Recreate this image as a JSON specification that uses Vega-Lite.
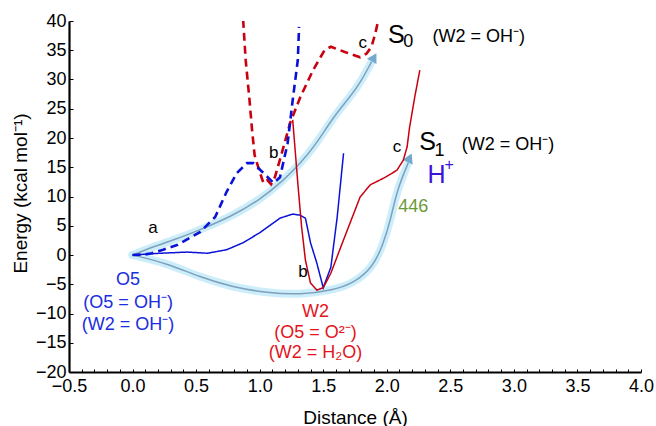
{
  "$schema": "https://vega.github.io/schema/vega-lite/v6.json",
  "width": 572,
  "height": 351,
  "autosize": {"type": "none"},
  "padding": {"left": 69, "top": 21, "right": 15, "bottom": 54},
  "background": "white",
  "config": {
    "view": {"stroke": null},
    "font": "Liberation Sans",
    "text": {"font": "Liberation Sans"}
  },
  "datasets": {
    "glow": [
      {"arrow": "upper", "x": 0, "y": 0},
      {"arrow": "upper", "x": 0.16, "y": 1.4},
      {"arrow": "upper", "x": 0.33, "y": 2.6},
      {"arrow": "upper", "x": 0.53, "y": 4.3},
      {"arrow": "upper", "x": 0.77, "y": 6.5},
      {"arrow": "upper", "x": 1.0, "y": 9.4},
      {"arrow": "upper", "x": 1.19, "y": 12.8},
      {"arrow": "upper", "x": 1.32, "y": 15.7},
      {"arrow": "upper", "x": 1.44, "y": 18.8},
      {"arrow": "upper", "x": 1.58, "y": 23.6},
      {"arrow": "upper", "x": 1.71, "y": 27.0},
      {"arrow": "upper", "x": 1.79, "y": 29.4},
      {"arrow": "upper", "x": 1.88, "y": 33.0},
      {"arrow": "lower", "x": 0, "y": 0},
      {"arrow": "lower", "x": 0.27, "y": -1.4},
      {"arrow": "lower", "x": 0.53, "y": -3.8},
      {"arrow": "lower", "x": 0.79, "y": -5.5},
      {"arrow": "lower", "x": 1.06, "y": -6.5},
      {"arrow": "lower", "x": 1.32, "y": -6.8},
      {"arrow": "lower", "x": 1.58, "y": -6.0},
      {"arrow": "lower", "x": 1.74, "y": -4.8},
      {"arrow": "lower", "x": 1.89, "y": -2.1},
      {"arrow": "lower", "x": 1.97, "y": 1.7},
      {"arrow": "lower", "x": 2.03, "y": 6.0},
      {"arrow": "lower", "x": 2.08, "y": 11.1},
      {"arrow": "lower", "x": 2.17, "y": 15.8}
    ],
    "tips": [
      {"arrow": "upper", "x": 1.90, "y": 33.8},
      {"arrow": "lower", "x": 2.18, "y": 16.6}
    ],
    "curves": [
      {"series": "S0 red", "x": 0.87, "y": 40.2},
      {"series": "S0 red", "x": 0.89, "y": 33.3},
      {"series": "S0 red", "x": 0.92, "y": 26.5},
      {"series": "S0 red", "x": 0.94, "y": 21.4},
      {"series": "S0 red", "x": 0.96, "y": 17.1},
      {"series": "S0 red", "x": 1.0, "y": 14.2},
      {"series": "S0 red", "x": 1.03, "y": 12.3},
      {"series": "S0 red", "x": 1.06, "y": 12.8},
      {"series": "S0 red", "x": 1.09, "y": 12.1},
      {"series": "S0 red", "x": 1.12, "y": 13.3},
      {"series": "S0 red", "x": 1.17, "y": 17.1},
      {"series": "S0 red", "x": 1.24, "y": 22.6},
      {"series": "S0 red", "x": 1.32, "y": 27.0},
      {"series": "S0 red", "x": 1.42, "y": 31.6},
      {"series": "S0 red", "x": 1.51, "y": 35.0},
      {"series": "S0 red", "x": 1.56, "y": 35.6},
      {"series": "S0 red", "x": 1.67, "y": 34.7},
      {"series": "S0 red", "x": 1.79, "y": 33.8},
      {"series": "S0 red", "x": 1.84, "y": 34.4},
      {"series": "S0 red", "x": 1.88, "y": 35.6},
      {"series": "S0 red", "x": 1.91, "y": 37.9},
      {"series": "S0 red", "x": 1.93, "y": 39.8},
      {"series": "S0 blue", "x": 0, "y": 0},
      {"series": "S0 blue", "x": 0.1, "y": 0.1},
      {"series": "S0 blue", "x": 0.15, "y": 0.3},
      {"series": "S0 blue", "x": 0.24, "y": 0.9},
      {"series": "S0 blue", "x": 0.35, "y": 1.7},
      {"series": "S0 blue", "x": 0.53, "y": 3.9},
      {"series": "S0 blue", "x": 0.65, "y": 6.5},
      {"series": "S0 blue", "x": 0.74, "y": 10.8},
      {"series": "S0 blue", "x": 0.82, "y": 14.0},
      {"series": "S0 blue", "x": 0.90, "y": 15.7},
      {"series": "S0 blue", "x": 0.95, "y": 15.7},
      {"series": "S0 blue", "x": 1.03, "y": 14.0},
      {"series": "S0 blue", "x": 1.11, "y": 12.3},
      {"series": "S0 blue", "x": 1.16, "y": 13.3},
      {"series": "S0 blue", "x": 1.22, "y": 19.1},
      {"series": "S0 blue", "x": 1.26, "y": 26.5},
      {"series": "S0 blue", "x": 1.30, "y": 33.3},
      {"series": "S0 blue", "x": 1.31, "y": 39.0},
      {"series": "S1 blue", "x": 0, "y": 0},
      {"series": "S1 blue", "x": 0.22, "y": 0.3},
      {"series": "S1 blue", "x": 0.43, "y": 0.5},
      {"series": "S1 blue", "x": 0.59, "y": 0.3},
      {"series": "S1 blue", "x": 0.74, "y": 0.9},
      {"series": "S1 blue", "x": 0.87, "y": 2.1},
      {"series": "S1 blue", "x": 1.0, "y": 3.8},
      {"series": "S1 blue", "x": 1.16, "y": 6.3},
      {"series": "S1 blue", "x": 1.26, "y": 7.0},
      {"series": "S1 blue", "x": 1.32, "y": 6.8},
      {"series": "S1 blue", "x": 1.36, "y": 6.3},
      {"series": "S1 blue", "x": 1.40, "y": 2.1},
      {"series": "S1 blue", "x": 1.45, "y": -1.4},
      {"series": "S1 blue", "x": 1.50, "y": -5.6},
      {"series": "S1 blue", "x": 1.56, "y": -2.1},
      {"series": "S1 blue", "x": 1.61, "y": 6.5},
      {"series": "S1 blue", "x": 1.66, "y": 17.4},
      {"series": "S1 red", "x": 1.26, "y": 23.1},
      {"series": "S1 red", "x": 1.30, "y": 12.3},
      {"series": "S1 red", "x": 1.33, "y": 4.8},
      {"series": "S1 red", "x": 1.36, "y": -0.9},
      {"series": "S1 red", "x": 1.40, "y": -4.8},
      {"series": "S1 red", "x": 1.45, "y": -6.0},
      {"series": "S1 red", "x": 1.50, "y": -5.6},
      {"series": "S1 red", "x": 1.56, "y": -3.1},
      {"series": "S1 red", "x": 1.66, "y": 2.6},
      {"series": "S1 red", "x": 1.79, "y": 9.9},
      {"series": "S1 red", "x": 1.87, "y": 12.0},
      {"series": "S1 red", "x": 1.99, "y": 13.3},
      {"series": "S1 red", "x": 2.08, "y": 14.5},
      {"series": "S1 red", "x": 2.13, "y": 16.2},
      {"series": "S1 red", "x": 2.16, "y": 18.5},
      {"series": "S1 red", "x": 2.18, "y": 21.9},
      {"series": "S1 red", "x": 2.22, "y": 27.0},
      {"series": "S1 red", "x": 2.26, "y": 31.6}
    ],
    "small": [
      {"x": 0.16, "y": 4.6, "t": "a"},
      {"x": 1.11, "y": 17.4, "t": "b"},
      {"x": 1.34, "y": -2.9, "t": "b"},
      {"x": 1.81, "y": 36.2, "t": "c"},
      {"x": 2.08, "y": 18.5, "t": "c"}
    ],
    "bigS": [
      {"x": 2.01, "y": 36.2, "t": "S"},
      {"x": 2.256, "y": 17.9, "t": "S"}
    ],
    "subS": [
      {"x": 2.13, "y": 35.5, "t": "0"},
      {"x": 2.375, "y": 17.0, "t": "1"}
    ],
    "paren": [
      {"x": 2.36, "y": 36.4, "t": "(W2 = OH⁻)"},
      {"x": 2.59, "y": 17.9, "t": "(W2 = OH⁻)"}
    ],
    "blueText": [
      {"x": -0.035, "y": -5.1, "t": "O5"},
      {"x": -0.035, "y": -9.1, "t": "(O5 = OH⁻)"},
      {"x": -0.035, "y": -12.8, "t": "(W2 = OH⁻)"}
    ],
    "redText": [
      {"x": 1.44, "y": -10.6, "t": "W2"},
      {"x": 1.44, "y": -14.2, "t": "(O5 = O²⁻)"},
      {"x": 1.44, "y": -17.6, "t": "(W2 = H₂O)"}
    ]
  },
  "layer": [
    {
      "data": {"name": "glow"},
      "mark": {"type": "line", "interpolate": "basis", "strokeWidth": 8, "color": "#c6ecf9", "opacity": 0.9, "strokeCap": "round"},
      "encoding": {
        "x": {"field": "x", "type": "quantitative", "scale": {"domain": [-0.5, 4.0], "nice": false, "zero": false},
          "axis": {
            "title": "Distance (Å)",
            "values": [-0.5,-0.4,-0.3,-0.2,-0.1,0,0.1,0.2,0.3,0.4,0.5,0.6,0.7,0.8,0.9,1.0,1.1,1.2,1.3,1.4,1.5,1.6,1.7,1.8,1.9,2.0,2.1,2.2,2.3,2.4,2.5,2.6,2.7,2.8,2.9,3.0,3.1,3.2,3.3,3.4,3.5,3.6,3.7,3.8,3.9,4.0],
            "tickCount": 200,
            "labelExpr": "abs(datum.value*2 - round(datum.value*2)) < 0.001 ? format(datum.value, '.1f') : ''",
            "grid": false,
            "domainColor": "black", "domainWidth": 2.2,
            "tickColor": "black", "tickSize": -3, "tickWidth": 1,
            "labelFont": "Liberation Sans", "labelFontSize": 18, "labelColor": "black", "labelPadding": 8, "labelFlush": false, "labelOverlap": false,
            "titleFont": "Liberation Sans", "titleFontSize": 19, "titleFontWeight": "normal", "titleColor": "black",
            "titleBaseline": "alphabetic", "titleY": 51
          }},
        "y": {"field": "y", "type": "quantitative", "scale": {"domain": [-20, 40], "nice": false, "zero": false},
          "axis": {
            "title": "Energy (kcal mol⁻¹)",
            "values": [-20,-15,-10,-5,0,5,10,15,20,25,30,35,40],
            "tickCount": 200,
            "format": "d",
            "grid": false,
            "domainColor": "black", "domainWidth": 2.2,
            "tickColor": "black", "tickSize": -4, "tickWidth": 1,
            "labelFont": "Liberation Sans", "labelFontSize": 18, "labelColor": "black", "labelPadding": 7, "labelFlush": false, "labelOverlap": false,
            "titleFont": "Liberation Sans", "titleFontSize": 19, "titleFontWeight": "normal", "titleColor": "black",
            "titleX": -49, "titleY": 172, "titleAngle": -90, "titleBaseline": "middle", "titleAlign": "center"
          }},
        "detail": {"field": "arrow"}
      }
    },
    {
      "data": {"name": "glow"},
      "mark": {"type": "line", "interpolate": "basis", "strokeWidth": 1.5, "color": "#7f9fbb"},
      "encoding": {
        "x": {"field": "x", "type": "quantitative"},
        "y": {"field": "y", "type": "quantitative"},
        "detail": {"field": "arrow"}
      }
    },
    {
      "data": {"name": "tips"},
      "transform": [{"filter": "datum.arrow == 'upper'"}],
      "mark": {"type": "point", "shape": "triangle-up", "filled": true, "size": 120, "color": "#74a9cd", "opacity": 1, "angle": 30},
      "encoding": {
        "x": {"field": "x", "type": "quantitative"},
        "y": {"field": "y", "type": "quantitative"}
      }
    },
    {
      "data": {"name": "tips"},
      "transform": [{"filter": "datum.arrow == 'lower'"}],
      "mark": {"type": "point", "shape": "triangle-up", "filled": true, "size": 120, "color": "#74a9cd", "opacity": 1, "angle": 25},
      "encoding": {
        "x": {"field": "x", "type": "quantitative"},
        "y": {"field": "y", "type": "quantitative"}
      }
    },
    {
      "data": {"name": "curves"},
      "mark": {"type": "line", "clip": true},
      "encoding": {
        "x": {"field": "x", "type": "quantitative"},
        "y": {"field": "y", "type": "quantitative"},
        "detail": {"field": "series"},
        "color": {"field": "series", "type": "nominal", "legend": null,
          "scale": {"domain": ["S0 red", "S0 blue", "S1 blue", "S1 red"], "range": ["#c8000f", "#0a12d6", "#0a12d6", "#c8000f"]}},
        "strokeDash": {"field": "series", "type": "nominal", "legend": null,
          "scale": {"domain": ["S0 red", "S0 blue", "S1 blue", "S1 red"], "range": [[8, 5], [8, 5], [1, 0], [1, 0]]}},
        "strokeWidth": {"field": "series", "type": "nominal", "legend": null,
          "scale": {"type": "ordinal", "domain": ["S0 red", "S0 blue", "S1 blue", "S1 red"], "range": [2.6, 2.6, 1.5, 1.5]}}
      }
    },
    {
      "data": {"name": "small"},
      "mark": {"type": "text", "fontSize": 17, "color": "black", "align": "center", "baseline": "middle", "font": "Liberation Sans"},
      "encoding": {
        "x": {"field": "x", "type": "quantitative"},
        "y": {"field": "y", "type": "quantitative"},
        "text": {"field": "t"}
      }
    },
    {
      "data": {"name": "bigS"},
      "mark": {"type": "text", "fontSize": 25, "color": "black", "align": "left", "baseline": "alphabetic", "font": "Liberation Sans"},
      "encoding": {
        "x": {"field": "x", "type": "quantitative"},
        "y": {"field": "y", "type": "quantitative"},
        "text": {"field": "t"}
      }
    },
    {
      "data": {"name": "subS"},
      "mark": {"type": "text", "fontSize": 18, "color": "black", "align": "left", "baseline": "alphabetic", "font": "Liberation Sans"},
      "encoding": {
        "x": {"field": "x", "type": "quantitative"},
        "y": {"field": "y", "type": "quantitative"},
        "text": {"field": "t"}
      }
    },
    {
      "data": {"name": "paren"},
      "mark": {"type": "text", "fontSize": 18, "color": "black", "align": "left", "baseline": "alphabetic", "font": "Liberation Sans"},
      "encoding": {
        "x": {"field": "x", "type": "quantitative"},
        "y": {"field": "y", "type": "quantitative"},
        "text": {"field": "t"}
      }
    },
    {
      "data": {"name": "blueText"},
      "mark": {"type": "text", "fontSize": 18, "color": "#1a2ee0", "align": "center", "baseline": "alphabetic", "font": "Liberation Sans"},
      "encoding": {
        "x": {"field": "x", "type": "quantitative"},
        "y": {"field": "y", "type": "quantitative"},
        "text": {"field": "t"}
      }
    },
    {
      "data": {"name": "redText"},
      "mark": {"type": "text", "fontSize": 18, "color": "#e3141c", "align": "center", "baseline": "alphabetic", "font": "Liberation Sans"},
      "encoding": {
        "x": {"field": "x", "type": "quantitative"},
        "y": {"field": "y", "type": "quantitative"},
        "text": {"field": "t"}
      }
    },
    {
      "data": {"values": [{"x": 2.32, "y": 12.3, "t": "H"}]},
      "mark": {"type": "text", "fontSize": 25, "color": "#3a14d8", "align": "left", "baseline": "alphabetic", "font": "Liberation Sans"},
      "encoding": {
        "x": {"field": "x", "type": "quantitative"},
        "y": {"field": "y", "type": "quantitative"},
        "text": {"field": "t"}
      }
    },
    {
      "data": {"values": [{"x": 2.455, "y": 14.6, "t": "+"}]},
      "mark": {"type": "text", "fontSize": 16, "color": "#3a14d8", "align": "left", "baseline": "alphabetic", "font": "Liberation Sans"},
      "encoding": {
        "x": {"field": "x", "type": "quantitative"},
        "y": {"field": "y", "type": "quantitative"},
        "text": {"field": "t"}
      }
    },
    {
      "data": {"values": [{"x": 2.09, "y": 7.35, "t": "446"}]},
      "mark": {"type": "text", "fontSize": 18, "color": "#6b9a3a", "align": "left", "baseline": "alphabetic", "font": "Liberation Sans"},
      "encoding": {
        "x": {"field": "x", "type": "quantitative"},
        "y": {"field": "y", "type": "quantitative"},
        "text": {"field": "t"}
      }
    }
  ]
}
